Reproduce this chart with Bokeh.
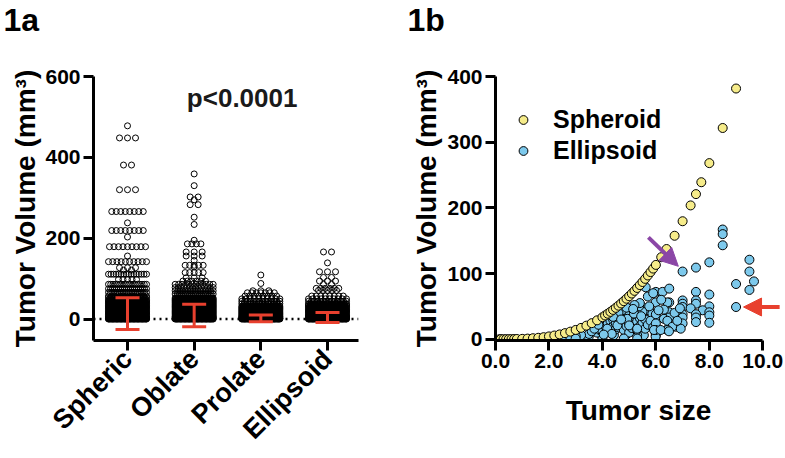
import math
from bokeh.plotting import figure
from bokeh.layouts import row
from bokeh.models import (Range1d, FixedTicker, Span, Label, Legend, LegendItem,
                          Arrow, NormalHead, NumeralTickFormatter)
from bokeh.embed import file_html
from bokeh.resources import INLINE

FONT = "Liberation Sans"
RED = "#e8402e"
YELLOW = "#f6ec8a"
BLUE = "#7dc9ec"
PURPLE = "#8b46a6"

# ---------------- Panel 1a data ----------------
categories = ["Spheric", "Oblate", "Prolate", "Ellipsoid"]

spheric_vals = [478, 448, 381, 320, 266, 238, 219, 203, 179, 156, 142, 127, 121, 111, 98, 86, 75, 66, 57, 53,
                48, 45, 42, 39, 36, 33, 30, 27, 24, 21, 18, 15, 12, 9, 6, 4, 2, 1, 0]
spheric_counts = [1, 3, 2, 3, 8, 1, 8, 1, 9, 1, 10, 3, 2, 16, 5, 18, 20, 22, 14, 24,
                  28, 30, 30, 30, 30, 30, 30, 30, 30, 30, 30, 30, 30, 30, 30, 30, 30, 30, 30]

oblate_vals = [359, 330, 302, 295, 283, 252, 234, 195, 186, 166, 156, 145, 133, 129, 115, 102, 94, 86, 78, 70, 62,
               52, 49, 46, 43, 40, 37, 34, 31, 28, 25, 22, 19, 16, 13, 10, 7, 5, 3, 1, 0]
oblate_counts = [1, 1, 2, 1, 2, 1, 1, 1, 4, 3, 3, 1, 5, 1, 5, 3, 6, 12, 14, 16, 20,
                 26, 30, 30, 30, 30, 30, 30, 30, 30, 30, 30, 30, 30, 30, 30, 30, 30, 30, 30, 30]

prolate_vals = [109, 88, 70, 65, 57, 50, 44, 38, 32, 29, 26, 23, 20, 17, 14, 11, 8, 6, 4, 2, 1, 0]
prolate_counts = [1, 1, 3, 7, 8, 10, 14, 18, 28, 30, 30, 30, 30, 30, 30, 30, 30, 30, 30, 30, 30, 30]

ellipsoid_vals = [166, 139, 117, 103, 94, 86, 76, 71, 57, 50, 44, 38, 35, 32, 29, 26, 23, 20, 17, 14, 11, 8, 6, 4, 2, 1, 0]
ellipsoid_counts = [2, 1, 3, 2, 3, 2, 6, 5, 8, 10, 14, 18, 22, 26, 30, 30, 30, 30, 30, 30, 30, 30, 30, 30, 30, 30, 30]

group_means = [13.5, 9.0, 1.6, 4.1]
group_sds = [39.5, 27.9, 8.2, 12.3]

# ---------------- Panel 1b data ----------------
spheroid_size = [0.15, 0.2, 0.3, 0.4, 0.5, 0.6, 0.7, 0.8, 1.0, 1.2, 1.4, 1.6, 1.8, 2.0, 2.2, 2.4, 2.6, 2.8,
                 3.0, 3.2, 3.4, 3.6, 3.8, 4.0, 4.1, 4.2, 4.3, 4.4, 4.5, 4.6, 4.7, 4.8, 4.9, 5.0, 5.1, 5.2,
                 5.3, 5.4, 5.5, 5.6, 5.7, 5.8, 5.9, 6.0, 6.2, 6.4, 6.7, 7.0, 7.3, 7.5, 7.7, 8.0, 8.5, 9.0]
spheroid_volume = [0.0, 0.004, 0.014, 0.034, 0.065, 0.113, 0.18, 0.27, 0.52, 0.90, 1.44, 2.14, 3.05, 4.19, 5.58,
                   7.24, 9.20, 11.5, 14.1, 17.2, 20.6, 24.4, 28.7, 33.5, 36.1, 38.8, 41.6, 44.6, 47.7, 51.0,
                   54.4, 57.9, 61.6, 65.4, 69.5, 73.6, 78.0, 82.4, 87.1, 91.9, 97.0, 102.2, 107.5, 113.1,
                   124.8, 137.3, 157.5, 179.6, 203.7, 220.9, 239.0, 268.1, 321.6, 381.7]

ellipsoid_size = [
    8.5, 8.5, 8.5, 7.0, 7.5, 8.0, 9.5, 9.5, 9.67, 9.5, 9.0, 9.0,
    6.0, 6.25, 6.5, 7.5, 8.0, 7.0, 7.0, 7.0, 7.5, 7.5, 6.5, 8.0, 7.3, 7.75, 8.0, 7.5, 7.5, 8.0,
    7.0, 7.0, 6.5, 6.5, 7.5, 8.0, 7.0, 6.5, 6.75, 6.0,
    5.62, 5.99, 6.43, 5.5, 5.74, 5.06, 4.93, 5.3, 5.5, 5.87, 6.05, 6.3, 6.43, 6.62, 6.93, 6.43,
    5.99, 5.99, 5.55, 5.3, 4.87, 4.43, 4.0, 4.0, 3.49, 3.12, 2.75, 2.5,
    3.8, 3.9, 4.0, 4.0, 4.1, 4.2, 4.2, 4.3, 4.3, 4.4, 4.4, 4.5, 4.5, 4.5, 4.6, 4.6, 4.7, 4.7,
    4.8, 4.8, 4.9, 4.9, 5.0, 5.0, 5.0, 5.1, 5.1, 5.2, 5.2, 5.3, 5.3, 5.4, 5.4, 5.5, 5.5, 5.6,
    5.6, 5.7, 5.8, 5.9, 6.0, 6.0, 6.0, 3.5, 3.6, 3.7, 3.2, 3.0, 2.8, 2.2, 2.0, 1.6,
    5.37, 4.18, 4.56, 4.74, 4.93, 5.18, 5.0, 5.3, 3.0, 4.8, 5.3, 5.93, 6.18, 6.49,
    5.7, 5.9, 5.4, 5.2, 4.9, 6.2, 6.3, 6.7, 6.8, 6.9, 4.6, 4.4, 4.7, 5.15, 5.45, 5.75, 6.1, 4.35, 4.05, 3.85]
ellipsoid_volume = [
    167, 160, 143, 103, 109, 117, 121, 103, 88, 75, 84, 49,
    72, 72, 77, 72, 68, 59, 54, 49, 59, 54, 56, 50, 47, 44, 41, 38, 33, 36,
    38, 33, 41, 33, 26, 25, 24, 19, 19, 6,
    79, 56, 56, 49, 44, 47, 36, 36, 34, 39, 33, 31, 28, 19, 16, 14,
    9, 4, 6, 6, 6, 6, 4, 1.5, 4, 1, 1, 0,
    10, 14, 18, 12, 20, 16, 24, 12, 28, 20, 30, 15, 24, 35, 18, 28, 22, 38,
    14, 26, 20, 31, 10, 24, 42, 17, 30, 22, 38, 14, 27, 20, 32, 25, 42, 16,
    30, 22, 28, 18, 24, 14, 38, 8, 12, 16, 6, 5, 3, 2, 1, 0.5,
    50, 16, 21, 44, 31, 39, 21, 16, 1, 1, 1, 14, 14, 12,
    65, 70, 55, 52, 48, 60, 45, 40, 28, 47, 40, 34, 30, 46, 35, 50, 44, 8, 7, 22]

# annotations (data positions)
p_text = "p<0.0001"
p_text_pos = (2.72, 546)
purple_arrow = (5.72, 155, 6.84, 111)
red_arrow = (10.63, 49, 9.28, 49)

# ---------------- layout constants ----------------
W_A, W_B, H = 400, 385, 458
A_LEFT, A_RIGHT, TOP, BOTTOM = 93, 42, 76, 116
B_LEFT, B_RIGHT = 95, 4
XA = (0.49, 4.465)
YA = (-53, 600)
XB = (0, 10.7)
YB = (-2, 400)


def style_axes(p):
    for ax in p.axis:
        ax.axis_line_width = 3
        ax.axis_line_color = "black"
        ax.major_tick_line_width = 3
        ax.major_tick_line_color = "black"
        ax.major_tick_out = 10
        ax.major_tick_in = 0
        ax.minor_tick_line_color = None
        ax.major_label_text_font = FONT
        ax.major_label_text_font_style = "bold"
        ax.major_label_text_font_size = "21px"
        ax.major_label_text_color = "black"
        ax.major_label_standoff = 3
        ax.axis_label_text_font = FONT
        ax.axis_label_text_font_style = "bold"
        ax.axis_label_text_font_size = "28px"
        ax.axis_label_text_color = "black"
    p.grid.visible = False
    p.outline_line_color = None
    p.background_fill_color = "white"
    p.border_fill_color = "white"


def style_title(p, offset):
    # the panel letter sits on the first line of a two-line title block so that
    # it reaches the top of the canvas without pushing the frame down
    p.title.text_font = FONT
    p.title.text_font_style = "bold"
    p.title.text_font_size = "32px"
    p.title.text_line_height = 1.02
    p.title.text_color = "black"
    p.title.align = "left"
    p.title.vertical_align = "top"
    p.title.offset = offset
    p.title.standoff = 0


# ================= Panel 1a =================
pa = figure(width=W_A, height=H, x_range=Range1d(*XA), y_range=Range1d(*YA),
            title="1a\n\u00a0", output_backend="svg", toolbar_location=None,
            min_border_left=A_LEFT, min_border_right=A_RIGHT,
            min_border_top=TOP, min_border_bottom=BOTTOM)
style_axes(pa)
style_title(pa, -90)

upx = (XA[1] - XA[0]) / (W_A - A_LEFT - A_RIGHT)  # data units per pixel


def swarm(center, vals, counts):
    xs, ys = [], []
    for v, n in zip(vals, counts):
        step = 8.0 if n <= 3 else min(4.5, 38.0 / (n - 1))
        for i in range(n):
            xs.append(center + (i - (n - 1) / 2) * step * upx)
            ys.append(v)
    return xs, ys


zero = Span(location=0, dimension="width", line_color="black", line_width=2.5,
            line_dash="2 4", level="underlay")
pa.add_layout(zero)

groups = [(spheric_vals, spheric_counts), (oblate_vals, oblate_counts),
          (prolate_vals, prolate_counts), (ellipsoid_vals, ellipsoid_counts)]
for i, (vals, counts) in enumerate(groups):
    xs, ys = swarm(i + 1, vals, counts)
    pa.scatter(xs, ys, size=6, marker="circle", fill_alpha=0, line_color="black", line_width=1)

cap = 12 * upx
centers = [i + 1 for i in range(len(categories))]
lo = [m - s for m, s in zip(group_means, group_sds)]
hi = [m + s for m, s in zip(group_means, group_sds)]
pa.segment(x0=centers, y0=lo, x1=centers, y1=hi, line_color=RED, line_width=3)
pa.segment(x0=[c - cap for c in centers], y0=lo, x1=[c + cap for c in centers], y1=lo,
           line_color=RED, line_width=3)
pa.segment(x0=[c - cap for c in centers], y0=hi, x1=[c + cap for c in centers], y1=hi,
           line_color=RED, line_width=3)

pa.xaxis.ticker = FixedTicker(ticks=centers)
pa.xaxis.major_label_overrides = {c: name for c, name in zip(centers, categories)}
pa.xaxis.major_label_orientation = math.pi / 4
pa.xaxis.major_label_text_font_size = "27px"
pa.xaxis.major_label_standoff = 4
pa.yaxis.ticker = FixedTicker(ticks=[0, 200, 400, 600])
pa.yaxis.axis_label = "Tumor Volume (mm³)"
pa.yaxis.axis_label_standoff = 1

pa.add_layout(Label(x=p_text_pos[0], y=p_text_pos[1], text=p_text, text_font=FONT,
                    text_font_style="bold", text_font_size="26px", text_align="center",
                    text_baseline="alphabetic", text_color="#1a1a1a"))

# ================= Panel 1b =================
pb = figure(width=W_B, height=H, x_range=Range1d(*XB), y_range=Range1d(*YB),
            title="1b\n\u00a0", output_backend="svg", toolbar_location=None,
            min_border_left=B_LEFT, min_border_right=B_RIGHT,
            min_border_top=TOP, min_border_bottom=BOTTOM)
style_axes(pb)
style_title(pb, -88)

rb = pb.scatter(ellipsoid_size, ellipsoid_volume, size=9, marker="circle",
                fill_color=BLUE, line_color="black", line_width=1)
ry = pb.scatter(spheroid_size, spheroid_volume, size=9, marker="circle",
                fill_color=YELLOW, line_color="black", line_width=1)

pb.xaxis.bounds = (0, 10)
pb.xaxis.ticker = FixedTicker(ticks=[0, 2, 4, 6, 8, 10])
pb.xaxis.formatter = NumeralTickFormatter(format="0.0")
pb.yaxis.ticker = FixedTicker(ticks=[0, 100, 200, 300, 400])
pb.xaxis.axis_label = "Tumor size"
pb.xaxis.axis_label_standoff = 24
pb.yaxis.axis_label = "Tumor Volume (mm³)"
pb.yaxis.axis_label_standoff = 2

legend = Legend(items=[LegendItem(label="Spheroid", renderers=[ry]),
                       LegendItem(label="Ellipsoid", renderers=[rb])],
                location=(17, 174), glyph_width=22, glyph_height=31, label_standoff=19,
                padding=0, margin=0, spacing=0, border_line_color=None,
                background_fill_alpha=0, label_text_font=FONT,
                label_text_font_style="bold", label_text_font_size="25px",
                label_text_color="black")
pb.add_layout(legend)

for (x0, y0, x1, y1), col in [(purple_arrow, PURPLE), (red_arrow, RED)]:
    pb.add_layout(Arrow(end=NormalHead(size=18, fill_color=col, line_color=col),
                        x_start=x0, y_start=y0, x_end=x1, y_end=y1,
                        line_color=col, line_width=4))

layout = row(pa, pb)
open("out.html", "w").write(file_html(layout, INLINE))
